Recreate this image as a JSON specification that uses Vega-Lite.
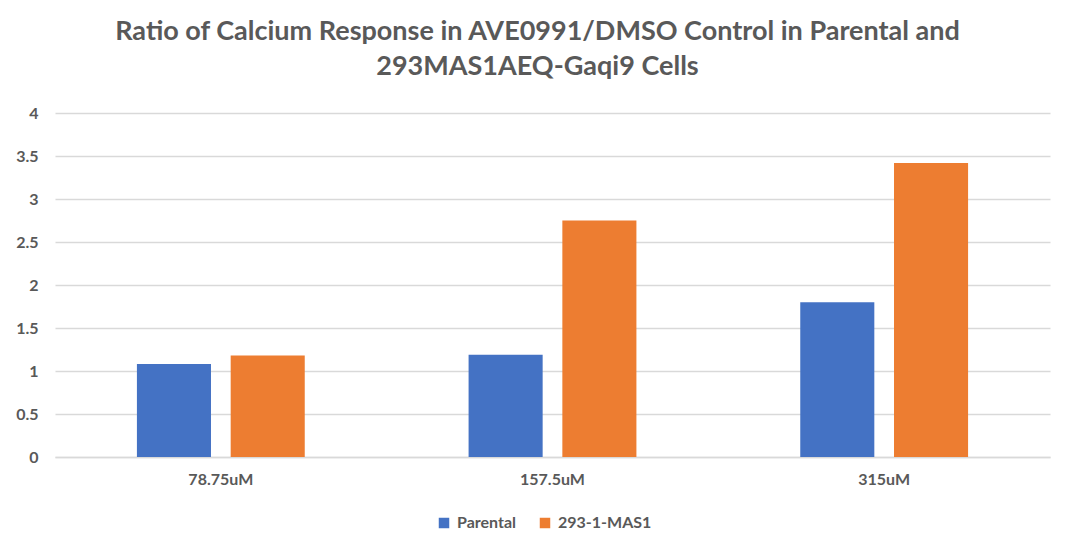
{
  "$schema": "https://vega.github.io/schema/vega-lite/v6.json",
  "autosize": {"type": "none"},
  "width": 995,
  "height": 344,
  "padding": {"left": 55, "top": 113, "right": 24, "bottom": 96},
  "background": "white",
  "title": {
    "text": ["Ratio of Calcium Response in AVE0991/DMSO Control in Parental and", "293MAS1AEQ-Gaqi9 Cells"],
    "font": "Lato",
    "fontSize": 27,
    "fontWeight": "bold",
    "color": "#595959",
    "lineHeight": 35,
    "anchor": "middle",
    "dx": -15,
    "offset": 24
  },
  "data": {
    "values": [
      {"dose": "78.75uM", "series": "Parental", "ratio": 1.08},
      {"dose": "78.75uM", "series": "293-1-MAS1", "ratio": 1.18},
      {"dose": "157.5uM", "series": "Parental", "ratio": 1.19},
      {"dose": "157.5uM", "series": "293-1-MAS1", "ratio": 2.75},
      {"dose": "315uM", "series": "Parental", "ratio": 1.8},
      {"dose": "315uM", "series": "293-1-MAS1", "ratio": 3.42}
    ]
  },
  "mark": {"type": "bar"},
  "encoding": {
    "x": {
      "field": "dose",
      "type": "nominal",
      "sort": ["78.75uM", "157.5uM", "315uM"],
      "scale": {"paddingInner": 0.494, "paddingOuter": 0.247},
      "axis": {
        "title": null,
        "labelAngle": 0,
        "labelFont": "Lato",
        "labelFontSize": 16,
        "labelFontWeight": "bold",
        "labelColor": "#595959",
        "labelPadding": 14,
        "ticks": false,
        "domainColor": "#d9d9d9",
        "domainWidth": 1.5,
        "grid": false
      }
    },
    "xOffset": {
      "field": "series",
      "type": "nominal",
      "sort": ["Parental", "293-1-MAS1"],
      "scale": {"paddingInner": 0.21, "paddingOuter": 0}
    },
    "y": {
      "field": "ratio",
      "type": "quantitative",
      "scale": {"domain": [0, 4]},
      "axis": {
        "title": null,
        "values": [0, 0.5, 1, 1.5, 2, 2.5, 3, 3.5, 4],
        "format": "~g",
        "labelFont": "Lato",
        "labelFontSize": 16,
        "labelFontWeight": "bold",
        "labelColor": "#595959",
        "labelPadding": 17,
        "ticks": false,
        "domain": false,
        "gridColor": "#d9d9d9",
        "gridWidth": 1.5
      }
    },
    "color": {
      "field": "series",
      "type": "nominal",
      "sort": ["Parental", "293-1-MAS1"],
      "scale": {"domain": ["Parental", "293-1-MAS1"], "range": ["#4472C4", "#ED7D31"]},
      "legend": {
        "title": null,
        "orient": "none",
        "direction": "horizontal",
        "legendX": 381,
        "legendY": 402,
        "symbolType": "square",
        "symbolSize": 110,
        "symbolStrokeWidth": 0,
        "labelFont": "Lato",
        "labelFontSize": 16,
        "labelFontWeight": "bold",
        "labelColor": "#595959",
        "columnPadding": 20,
        "labelOffset": 5
      }
    }
  },
  "config": {"view": {"stroke": null}}
}
